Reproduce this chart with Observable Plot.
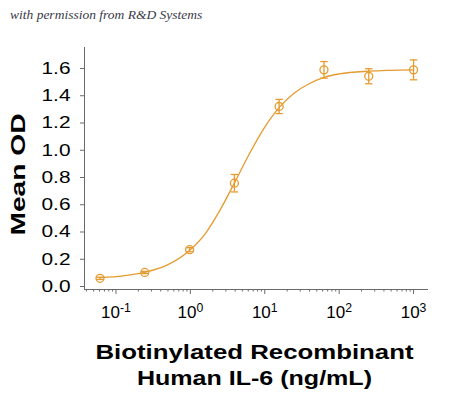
<!DOCTYPE html>
<html>
<head>
<meta charset="utf-8">
<script src="https://cdn.jsdelivr.net/npm/d3@7"></script>
<script src="https://cdn.jsdelivr.net/npm/@observablehq/plot@0.6"></script>
<style>
  html, body { margin: 0; padding: 0; background: #fff; }
  #cap { height: 30px; line-height: 30px; padding-left: 10px; font-family: "Liberation Serif", serif; font-style: italic; font-size: 13.5px; color: #3a3a48; }
  #chart svg { display: block; }
</style>
</head>
<body>
<div id="cap">with permission from R&amp;D Systems</div>
<div id="chart"></div>
<script>
// Measured points (ng/mL, mean OD, error)
const conc = [0.061, 0.244, 0.977, 3.91, 15.6, 62.5, 250, 1000];
const od   = [0.060, 0.103, 0.270, 0.758, 1.321, 1.590, 1.543, 1.590];
const err  = [0.008, 0.008, 0.015, 0.064, 0.052, 0.061, 0.055, 0.073];
// Fitted curve
const curveConc = [0.062, 0.125, 0.25, 0.5, 1, 1.6, 2.5, 4, 6.3, 10, 16, 25, 40, 63, 100, 250, 1000];
const curveOD   = [0.065, 0.078, 0.105, 0.16, 0.27, 0.39, 0.56, 0.77, 0.98, 1.17, 1.32, 1.42, 1.49, 1.535, 1.56, 1.58, 1.59];
// Axis ticks
const yTicks = [0, 0.2, 0.4, 0.6, 0.8, 1.0, 1.2, 1.4, 1.6];
const xMajor = [0.1, 1, 10, 100, 1000];
const xMinor = [0.04,0.05,0.06,0.07,0.08,0.09, 0.2,0.3,0.4,0.5,0.6,0.7,0.8,0.9, 2,3,4,5,6,7,8,9, 20,30,40,50,60,70,80,90, 200,300,400,500,600,700,800,900];
const xTitle = "Biotinylated Recombinant\nHuman IL-6 (ng/mL)";
const yTitle = "Mean OD";

const color = "#E59B2F";
const axisColor = "#6a6a6a";
const pts = conc.map((c, i) => ({c, od: od[i], lo: od[i] - err[i], hi: od[i] + err[i]}));
const curve = curveConc.map((c, i) => ({c, od: curveOD[i]}));

const capSymbol = {
  draw(ctx, size) {
    const w = Math.sqrt(size / Math.PI);
    ctx.moveTo(-w, 0);
    ctx.lineTo(w, 0);
  }
};

const xDomain = [Math.pow(10, -1.423), Math.pow(10, 3.201)];
const yDomain = [-0.022, 1.754];

const chart = Plot.plot({
  width: 450,
  height: 369,
  marginLeft: 84,
  marginRight: 22,
  marginTop: 17,
  marginBottom: 110,
  style: {fontFamily: "'Liberation Sans', Arial, sans-serif", color: "#000", background: "#fff"},
  x: {type: "log", domain: xDomain},
  y: {domain: yDomain},
  marks: [
    Plot.ruleX([xDomain[0]], {y1: yDomain[0], y2: yDomain[1], stroke: axisColor, strokeWidth: 1}),
    Plot.ruleY([yDomain[0]], {x1: xDomain[0], x2: xDomain[1], stroke: axisColor, strokeWidth: 1}),
    Plot.axisY({ticks: yTicks, tickSize: 4, tickPadding: 10, tickFormat: d3.format(".1f"), fontSize: 17, stroke: axisColor, color: "#000", label: null}),
    Plot.axisX({ticks: xMinor, tickSize: 2.5, tickFormat: () => "", stroke: axisColor, label: null}),
    Plot.axisX({ticks: xMajor, tickSize: 5, tickPadding: 11, tickFormat: d => "10^" + Math.round(Math.log10(d)), fontSize: 17, stroke: axisColor, color: "#000", label: null}),
    Plot.line(curve, {x: "c", y: "od", curve: "monotone-x", stroke: color, strokeWidth: 1.3}),
    Plot.ruleX(pts, {x: "c", y1: "lo", y2: "hi", stroke: color, strokeWidth: 1.3}),
    Plot.dot(pts, {x: "c", y: "lo", symbol: capSymbol, r: 3.7, stroke: color, strokeWidth: 1.3}),
    Plot.dot(pts, {x: "c", y: "hi", symbol: capSymbol, r: 3.7, stroke: color, strokeWidth: 1.3}),
    Plot.dot(pts, {x: "c", y: "od", r: 4, stroke: color, strokeWidth: 1.3, fill: "none"}),
    Plot.text([xTitle], {frameAnchor: "bottom", textAnchor: "middle", lineAnchor: "top", dy: 51, dx: -2, fontSize: 21, fontWeight: "bold", lineHeight: 1.24, fill: "#000"}),
    Plot.text([yTitle], {frameAnchor: "left", textAnchor: "middle", rotate: -90, dx: -66, dy: 6, fontSize: 21, fontWeight: "bold", fill: "#000"})
  ]
});

const NS = "http://www.w3.org/2000/svg";
// Render tick labels of the form 10^n with a real superscript
chart.querySelectorAll("text").forEach(t => {
  const m = /^10\^(-?\d+)$/.exec(t.textContent);
  if (!m) return;
  t.textContent = "";
  const base = document.createElementNS(NS, "tspan");
  base.textContent = "10";
  const sup = document.createElementNS(NS, "tspan");
  sup.setAttribute("dy", "-0.45em");
  sup.setAttribute("font-size", "0.72em");
  sup.textContent = m[1];
  t.appendChild(base);
  t.appendChild(sup);
});
// The reference typography is horizontally wide; stretch titles to its measured widths
const widths = {"Biotinylated Recombinant": 318, "Human IL-6 (ng/mL)": 235, "Mean OD": 122};
chart.querySelectorAll("text, tspan").forEach(t => {
  if (t.children.length) return;
  const w = widths[t.textContent];
  if (w) { t.setAttribute("textLength", w); t.setAttribute("lengthAdjust", "spacingAndGlyphs"); }
  if (/^\d\.\d$/.test(t.textContent)) { t.setAttribute("textLength", 29); t.setAttribute("lengthAdjust", "spacingAndGlyphs"); }
});

document.getElementById("chart").appendChild(chart);
</script>
</body>
</html>
